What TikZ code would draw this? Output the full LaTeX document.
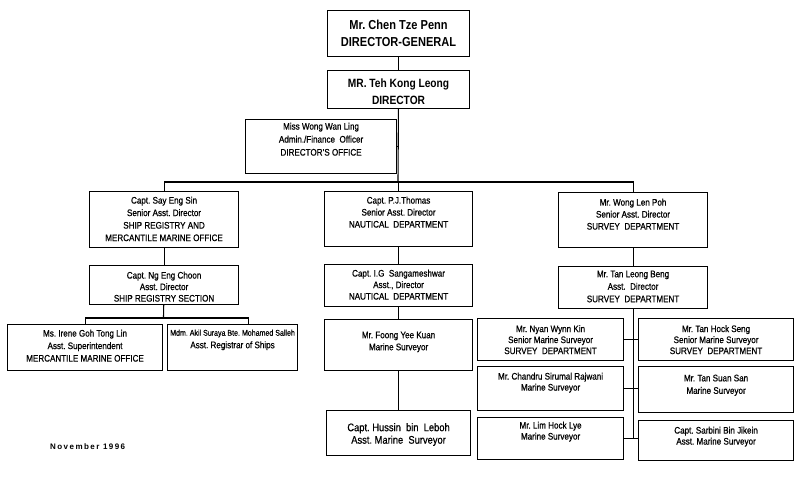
\documentclass[tikz,border=0pt]{standalone}
\usepackage{fontspec}
\setmainfont{Liberation Sans}[FakeStretch=0.85, UprightFeatures={FakeBold=0.6}]
\newfontfamily\datefont{Liberation Sans}[LetterSpace=18]
\newcommand\ob[8]{%
  \pgfmathsetmacro\obw{#4-#2}\pgfmathsetmacro\obh{#5-#3}%
  \node[box, minimum width=\obw pt, minimum height=\obh pt, anchor=north west] (#1) at (#2,#3) {};
  \node[txt,#7, anchor=north] (#1-t) at ([yshift=-#6pt]#1.north) {#8};
}
\begin{document}
\frenchspacing
\begin{tikzpicture}[x=1pt,y=-1pt,
  box/.style={draw, line width=1.1pt, inner sep=0pt, rectangle},
  txt/.style={inner sep=0pt, align=center, font=\fontsize{9.5}{12}\selectfont},
  big/.style={font=\fontsize{13}{17}\selectfont\bfseries},
  mid/.style={font=\fontsize{12}{17}\selectfont\bfseries},
  hus/.style={font=\fontsize{11}{12.5}\selectfont},
  sp11/.style={font=\fontsize{9.5}{11}\selectfont},
  sp115/.style={font=\fontsize{9.5}{11.5}\selectfont},
  sp13/.style={font=\fontsize{9.5}{13}\selectfont},
  sp125/.style={font=\fontsize{9.5}{12.5}\selectfont},
  conn/.style={line width=1.1pt}]
\fill[white] (0,0) rectangle (800,482);
\useasboundingbox (0,0) rectangle (800,482);

\ob{dg}{327}{10}{469}{56}{10.3}{big}{Mr. Chen Tze Penn\\DIRECTOR-GENERAL}
\ob{dir}{327}{70}{469}{108}{8.7}{mid}{MR. Teh Kong Leong\\DIRECTOR}
\ob{do}{245}{119}{396}{173}{3.5}{sp13}{Miss Wong Wan Ling\\Admin./Finance\ \ Officer\\DIRECTOR'S OFFICE}

\ob{sL}{89}{191}{238}{247}{5.5}{sp125}{Capt. Say Eng Sin\\Senior Asst. Director\\SHIP REGISTRY AND\\MERCANTILE MARINE OFFICE}
\ob{sM}{324}{191}{472}{246}{5.5}{}{Capt. P.J.Thomas\\Senior Asst. Director\\NAUTICAL\ \ DEPARTMENT}
\ob{sR}{558}{192}{707}{247}{6.5}{}{Mr. Wong Len Poh\\Senior Asst. Director\\SURVEY\ \ DEPARTMENT}

\ob{aL}{89}{265}{238}{304}{6.5}{sp115}{Capt. Ng Eng Choon\\Asst. Director\\SHIP REGISTRY SECTION}
\ob{aM}{324}{264}{472}{306}{5.5}{sp115}{Capt. I.G\ \ Sangameshwar\\Asst., Director\\NAUTICAL\ \ DEPARTMENT}
\ob{aR}{558}{266}{707}{308}{4.5}{sp125}{Mr. Tan Leong Beng\\Asst.\ \ Director\\SURVEY\ \ DEPARTMENT}

\ob{b1}{7}{324}{162}{370}{5.5}{sp125}{Ms. Irene Goh Tong Lin\\Asst. Superintendent\\MERCANTILE MARINE OFFICE}
\ob{b2}{167}{324}{297}{370}{5.5}{sp125}{{\fontsize{8.3}{12.5}\selectfont Mdm. Akil Suraya Bte. Mohamed Salleh}\\Asst. Registrar of Ships}

\ob{fM}{324}{319}{472}{370}{12.5}{}{Mr. Foong Yee Kuan\\Marine Surveyor}
\ob{hM}{326}{410}{470}{455}{13}{hus}{Capt. Hussin\ \ bin\ \ Leboh\\Asst. Marine\ \ Surveyor}

\ob{nyan}{477}{318}{623}{360}{7}{sp11}{Mr. Nyan Wynn Kin\\Senior Marine Surveyor\\SURVEY\ \ DEPARTMENT}
\ob{tanhock}{638}{318}{793}{360}{7}{sp11}{Mr. Tan Hock Seng\\Senior Marine Surveyor\\SURVEY\ \ DEPARTMENT}
\ob{chandru}{477}{366}{623}{410}{6.5}{sp11}{Mr. Chandru Sirumal Rajwani\\Marine Surveyor}
\ob{tansuan}{638}{366}{793}{412}{8.5}{sp125}{Mr. Tan Suan San\\Marine Surveyor}
\ob{lim}{477}{417}{623}{459}{4.5}{sp11}{Mr. Lim Hock Lye\\Marine Surveyor}
\ob{sarbini}{638}{420}{793}{460}{6.5}{sp11}{Capt. Sarbini Bin Jikein\\Asst. Marine Surveyor}

% connectors
\coordinate (bus) at (398,182);
\draw[conn] (dg) -- (dir);
\draw[conn] (dir) -- (bus);
\draw[conn] (do.east) -- (do.east -| bus);
\draw[conn] (sL.north) |- (bus);
\draw[conn] (sR.north) |- (bus);
\draw[conn] (sM.north) -- (sM.north |- bus);

\coordinate (lbus) at (163.5,318);
\draw[conn] (sL) -- (aL);
\draw[conn] (aL) -- (lbus);
\draw[conn] (b1.north) |- (lbus);
\draw[conn] ([xshift=16pt]b2.north) |- (lbus);

\draw[conn] (sM) -- (aM);
\draw[conn] (aM) -- (fM);
\draw[conn] (fM) -- (hM);

\draw[conn] (sR) -- (aR);
\draw[conn] (aR.south) -- (aR.south |- lim.east);
\draw[conn] (nyan.east) -- (tanhock.west);
\draw[conn] (chandru.east) -- (chandru.east -| tansuan.west);
\draw[conn] (lim.east) -- (lim.east -| sarbini.west);

\node[inner sep=0pt, anchor=west, font={\datefont\fontsize{8}{10}\selectfont\bfseries}] (date) at (50,447) {November 1996};
\end{tikzpicture}
\end{document}
